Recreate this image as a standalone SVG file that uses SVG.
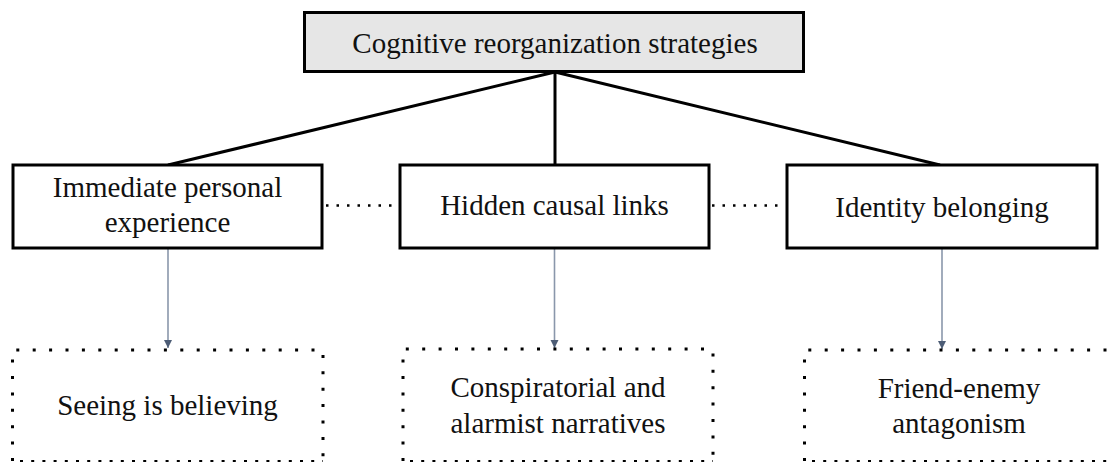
<svg xmlns="http://www.w3.org/2000/svg" width="1110" height="462" viewBox="0 0 1110 462">
  <defs>
    <style>
      .box { fill: #ffffff; stroke: #000000; stroke-width: 3; }
      .top { fill: #e6e6e6; stroke: #000000; stroke-width: 3; }
      .dot { fill: none; stroke: #000000; stroke-width: 3; stroke-dasharray: 3 13.4; }
      .dotb { fill: none; stroke: #000000; stroke-width: 3; stroke-dasharray: 3 8.2; }
      .lbl { font-family: "Liberation Serif", "Times New Roman", serif; font-size: 29px; fill: #111111; text-anchor: middle; }
      .tree { stroke: #000000; stroke-width: 3; fill: none; }
      .link { stroke: #000000; stroke-width: 2.5; stroke-dasharray: 2.5 8; fill: none; }
      .arr { stroke: #8a97ab; stroke-width: 1.6; fill: none; marker-end: url(#ah); }
    </style>
    <marker id="ah" viewBox="0 0 10 10" refX="10" refY="5" markerWidth="8" markerHeight="11" markerUnits="userSpaceOnUse" orient="auto">
      <path d="M0,0 L10,5 L0,10 Z" fill="#4d5d76"/>
    </marker>
  </defs>

  <g id="connectors">
    <line class="tree" x1="555" y1="72" x2="168" y2="165"/>
    <line class="tree" x1="555" y1="72" x2="555" y2="165"/>
    <line class="tree" x1="555" y1="72" x2="940" y2="165"/>
    <line class="link" x1="326" y1="205.5" x2="398" y2="205.5"/>
    <line class="link" x1="712" y1="205.5" x2="785" y2="205.5"/>
    <line class="arr" x1="168" y1="249" x2="168" y2="348"/>
    <line class="arr" x1="554.5" y1="249" x2="554.5" y2="348"/>
    <line class="arr" x1="942" y1="249" x2="942" y2="349"/>
  </g>

  <g id="node-root">
    <rect class="top" x="304.5" y="12.5" width="499" height="59"/>
    <text class="lbl" x="555" y="53">Cognitive reorganization strategies</text>
  </g>

  <g id="node-immediate">
    <rect class="box" x="13" y="165" width="309" height="83"/>
    <text class="lbl" x="167.5" y="197">Immediate personal</text>
    <text class="lbl" x="167.5" y="232">experience</text>
  </g>

  <g id="node-hidden">
    <rect class="box" x="400" y="165" width="309" height="83"/>
    <text class="lbl" x="554.5" y="215">Hidden causal links</text>
  </g>

  <g id="node-identity">
    <rect class="box" x="787" y="165" width="310" height="83"/>
    <text class="lbl" x="942" y="217">Identity belonging</text>
  </g>

  <g id="node-seeing">
    <path class="dot" d="M12.5,461 L12.5,350 L323,350 L323,461"/>
    <line class="dotb" x1="20" y1="461.5" x2="323" y2="461.5"/>
    <text class="lbl" x="167.5" y="415">Seeing is believing</text>
  </g>

  <g id="node-conspiratorial">
    <path class="dot" d="M403,461 L403,349 L713,349 L713,461"/>
    <line class="dotb" x1="410" y1="461.5" x2="713" y2="461.5"/>
    <text class="lbl" x="558" y="397">Conspiratorial and</text>
    <text class="lbl" x="558" y="433">alarmist narratives</text>
  </g>

  <g id="node-friend">
    <path class="dot" d="M804.5,461 L804.5,350 L1114,350 L1114,461"/>
    <line class="dotb" x1="812" y1="461.5" x2="1114" y2="461.5"/>
    <text class="lbl" x="959" y="398">Friend-enemy</text>
    <text class="lbl" x="959" y="433">antagonism</text>
  </g>
</svg>
